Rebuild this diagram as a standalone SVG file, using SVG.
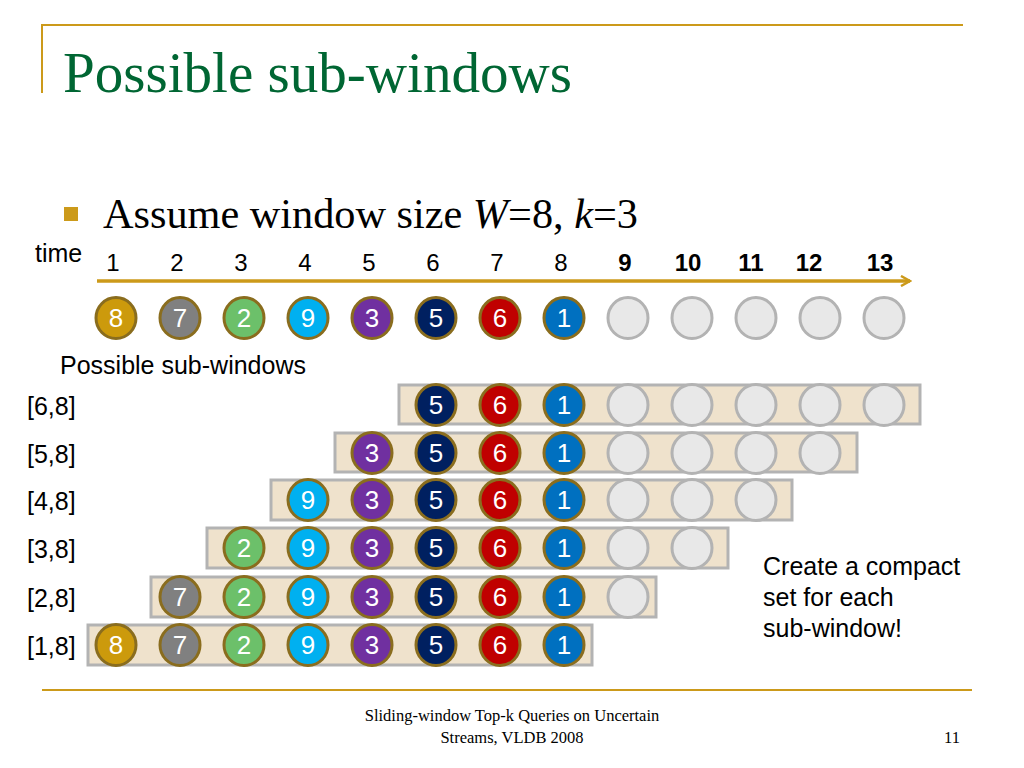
<svg xmlns="http://www.w3.org/2000/svg" width="1024" height="768" viewBox="0 0 1024 768">
<defs>
<style>
.gold{stroke:#cc9a1a;fill:none}
.sans{font-family:"Liberation Sans",Arial,sans-serif}
.serif{font-family:"Liberation Serif","Times New Roman",serif}
.num{font-family:"Liberation Sans",Arial,sans-serif;font-size:24px;fill:#000;text-anchor:middle}
.lbl{font-family:"Liberation Sans",Arial,sans-serif;font-size:25px;fill:#000}
.c{stroke:#8a6d1e;stroke-width:3}
.e{fill:#e8e8e8;stroke:#b3b3b3;stroke-width:3}
.ct{font-family:"Liberation Sans",Arial,sans-serif;font-size:26px;fill:#fff;text-anchor:middle}
.bar{fill:#efe2cc;stroke:#b3b3b3;stroke-width:3}
</style>
<marker id="ah" viewBox="0 0 12 12" refX="10" refY="6" markerWidth="12" markerHeight="12" markerUnits="userSpaceOnUse" orient="auto">
<path d="M1,1 L10,6 L1,11" fill="none" stroke="#cc9a1a" stroke-width="2.5"/>
</marker>
<g id="c8"><ellipse rx="20" ry="20.5" fill="#cc9a0c" class="c"/><text y="9" class="ct">8</text></g>
<g id="c7"><ellipse rx="20" ry="20.5" fill="#808080" class="c"/><text y="9" class="ct">7</text></g>
<g id="c2"><ellipse rx="20" ry="20.5" fill="#6cc06a" class="c"/><text y="9" class="ct">2</text></g>
<g id="c9"><ellipse rx="20" ry="20.5" fill="#00b0f0" class="c"/><text y="9" class="ct">9</text></g>
<g id="c3"><ellipse rx="20" ry="20.5" fill="#7030a0" class="c"/><text y="9" class="ct">3</text></g>
<g id="c5"><ellipse rx="20" ry="20.5" fill="#002060" class="c"/><text y="9" class="ct">5</text></g>
<g id="c6"><ellipse rx="20" ry="20.5" fill="#c00000" class="c"/><text y="9" class="ct">6</text></g>
<g id="c1"><ellipse rx="20" ry="20.5" fill="#0070c0" class="c"/><text y="9" class="ct">1</text></g>
<g id="ce"><ellipse rx="20" ry="20.5" class="e"/></g>
</defs>
<rect width="1024" height="768" fill="#fff"/>
<!-- frame -->
<path d="M42,25 H963 M42,24 V93" class="gold" stroke-width="2"/>
<path d="M42,690 H972" class="gold" stroke-width="2"/>
<text x="63" y="92" class="serif" font-size="58" fill="#006633" textLength="509" lengthAdjust="spacingAndGlyphs">Possible sub-windows</text>
<rect x="64" y="207" width="14" height="14" fill="#cc9a1a"/>
<text x="103" y="228" class="serif" font-size="42" fill="#000" textLength="535" lengthAdjust="spacingAndGlyphs">Assume window size <tspan font-style="italic">W</tspan>=8, <tspan font-style="italic">k</tspan>=3</text>
<text x="35" y="262" class="lbl">time</text>
<g id="timeline">
<text x="113" y="271" class="num">1</text>
<text x="177" y="271" class="num">2</text>
<text x="241" y="271" class="num">3</text>
<text x="305" y="271" class="num">4</text>
<text x="369" y="271" class="num">5</text>
<text x="433" y="271" class="num">6</text>
<text x="497" y="271" class="num">7</text>
<text x="561" y="271" class="num">8</text>
<g font-weight="bold">
<text x="625" y="271" class="num">9</text>
<text x="688" y="271" class="num">10</text>
<text x="751" y="271" class="num">11</text>
<text x="809" y="271" class="num">12</text>
<text x="880" y="271" class="num">13</text>
</g>
</g>
<g id="connectors">
<line x1="97" y1="281" x2="910" y2="281" stroke="#cc9a1a" stroke-width="3.5" marker-end="url(#ah)"/>
</g>
<g id="stream">
<use href="#c8" x="116" y="318"/><use href="#c7" x="180" y="318"/><use href="#c2" x="244" y="318"/><use href="#c9" x="308" y="318"/>
<use href="#c3" x="372" y="318"/><use href="#c5" x="436" y="318"/><use href="#c6" x="500" y="318"/><use href="#c1" x="564" y="318"/>
<use href="#ce" x="628" y="318"/><use href="#ce" x="692" y="318"/><use href="#ce" x="756" y="318"/><use href="#ce" x="820" y="318"/><use href="#ce" x="884" y="318"/>
</g>
<text x="60" y="374" class="lbl">Possible sub-windows</text>
<g id="w68">
<text x="27" y="415" class="lbl">[6,8]</text>
<rect x="399" y="385" width="521" height="39" class="bar"/>
<use href="#c5" x="436" y="405"/><use href="#c6" x="500" y="405"/><use href="#c1" x="564" y="405"/>
<use href="#ce" x="628" y="405"/><use href="#ce" x="692" y="405"/><use href="#ce" x="756" y="405"/><use href="#ce" x="820" y="405"/><use href="#ce" x="884" y="405"/>
</g>
<g id="w58">
<text x="27" y="463" class="lbl">[5,8]</text>
<rect x="335" y="433" width="522" height="39" class="bar"/>
<use href="#c3" x="372" y="453"/><use href="#c5" x="436" y="453"/><use href="#c6" x="500" y="453"/><use href="#c1" x="564" y="453"/>
<use href="#ce" x="628" y="453"/><use href="#ce" x="692" y="453"/><use href="#ce" x="756" y="453"/><use href="#ce" x="820" y="453"/>
</g>
<g id="w48">
<text x="27" y="510" class="lbl">[4,8]</text>
<rect x="271" y="480" width="521" height="40" class="bar"/>
<use href="#c9" x="308" y="500"/><use href="#c3" x="372" y="500"/><use href="#c5" x="436" y="500"/><use href="#c6" x="500" y="500"/><use href="#c1" x="564" y="500"/>
<use href="#ce" x="628" y="500"/><use href="#ce" x="692" y="500"/><use href="#ce" x="756" y="500"/>
</g>
<g id="w38">
<text x="27" y="558" class="lbl">[3,8]</text>
<rect x="207" y="528" width="521" height="40" class="bar"/>
<use href="#c2" x="244" y="548"/><use href="#c9" x="308" y="548"/><use href="#c3" x="372" y="548"/><use href="#c5" x="436" y="548"/><use href="#c6" x="500" y="548"/><use href="#c1" x="564" y="548"/>
<use href="#ce" x="628" y="548"/><use href="#ce" x="692" y="548"/>
</g>
<g id="w28">
<text x="27" y="607" class="lbl">[2,8]</text>
<rect x="151" y="577" width="505" height="40" class="bar"/>
<use href="#c7" x="180" y="597"/><use href="#c2" x="244" y="597"/><use href="#c9" x="308" y="597"/><use href="#c3" x="372" y="597"/><use href="#c5" x="436" y="597"/><use href="#c6" x="500" y="597"/><use href="#c1" x="564" y="597"/>
<use href="#ce" x="628" y="597"/>
</g>
<g id="w18">
<text x="27" y="655" class="lbl">[1,8]</text>
<rect x="88" y="625" width="504" height="40" class="bar"/>
<use href="#c8" x="116" y="645"/><use href="#c7" x="180" y="645"/><use href="#c2" x="244" y="645"/><use href="#c9" x="308" y="645"/><use href="#c3" x="372" y="645"/><use href="#c5" x="436" y="645"/><use href="#c6" x="500" y="645"/><use href="#c1" x="564" y="645"/>
</g>
<g id="note" class="lbl">
<text x="763" y="575">Create a compact</text>
<text x="763" y="606">set for each</text>
<text x="763" y="637">sub-window!</text>
</g>
<g class="serif" font-size="16.5" fill="#000">
<text x="512" y="721" text-anchor="middle">Sliding-window Top-k Queries on Uncertain</text>
<text x="512" y="743" text-anchor="middle">Streams, VLDB 2008</text>
<text x="960" y="743" text-anchor="end">11</text>
</g>
</svg>
